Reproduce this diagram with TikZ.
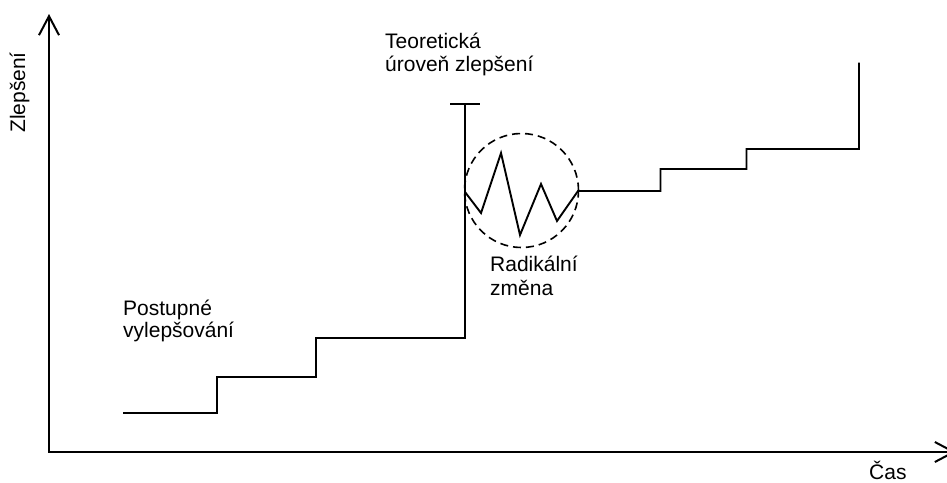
\documentclass[tikz,border=0pt]{standalone}
\usepackage{fontspec}
\setmainfont{Liberation Sans}
\usetikzlibrary{arrows.meta}
\begin{document}
\begin{tikzpicture}[x=1pt,y=-1pt,
  axis/.style={line width=2pt,line join=miter,{Straight Barb[length=19pt,width=20pt]}-{Straight Barb[length=19pt,width=20pt]}},
  curve/.style={line width=1.9pt,line join=miter},
  lbl/.style={anchor=base west,inner sep=0pt,font=\fontsize{21}{23}\selectfont},
  zone/.style={circle,draw,dash pattern=on 8pt off 5pt,line width=1.6pt,minimum size=114pt,inner sep=0pt}]
\useasboundingbox (0,0) rectangle (947,482);
% axes
\coordinate (O) at (49,452);
\coordinate (ytip) at (49,14);
\coordinate (xtip) at (956,452);
\draw[axis] (ytip) -- (O) -- (xtip);
% radical change zone
\node[zone] (radical) at (521.5,190.5) {};
% gradual improvement and theoretical level
\coordinate (s0) at (123,413);
\coordinate (peak) at (465,104);
\draw[curve] (s0) -- (217,413) -- (217,377) -- (316,377) -- (316,338) -- (465,338) -- (peak);
\coordinate (tl) at (450,104);
\coordinate (tr) at (480,104);
\draw[curve] (tl) -- (tr);
% zigzag and later steps
\coordinate (z0) at (465,192);
\coordinate (zend) at (859,62.5);
\draw[curve] (z0) -- (481,213) -- (501,153) -- (520,235) -- (541,184) -- (557,221) -- (578,191)
  -- (660.5,191) -- (660.5,169) -- (746.5,169) -- (746.5,149) -- (859,149) -- (zend);
% labels
\node[lbl] (t1) at (385,48) {Teoretická};
\node[lbl] (t2) at (385,71.5) {úroveň zlepšení};
\node[lbl] (p1) at (123,315) {Postupné};
\node[lbl] (p2) at (123,337.5) {vylepšování};
\node[lbl] (r1) at (490,271.5) {Radikální};
\node[lbl] (r2) at (490,295) {změna};
\node[lbl,text depth=0pt] (xl) at (869,479.5) {Čas};
\node[lbl,rotate=90] (yl) at (25,133) {Zlepšení};
\end{tikzpicture}
\end{document}
